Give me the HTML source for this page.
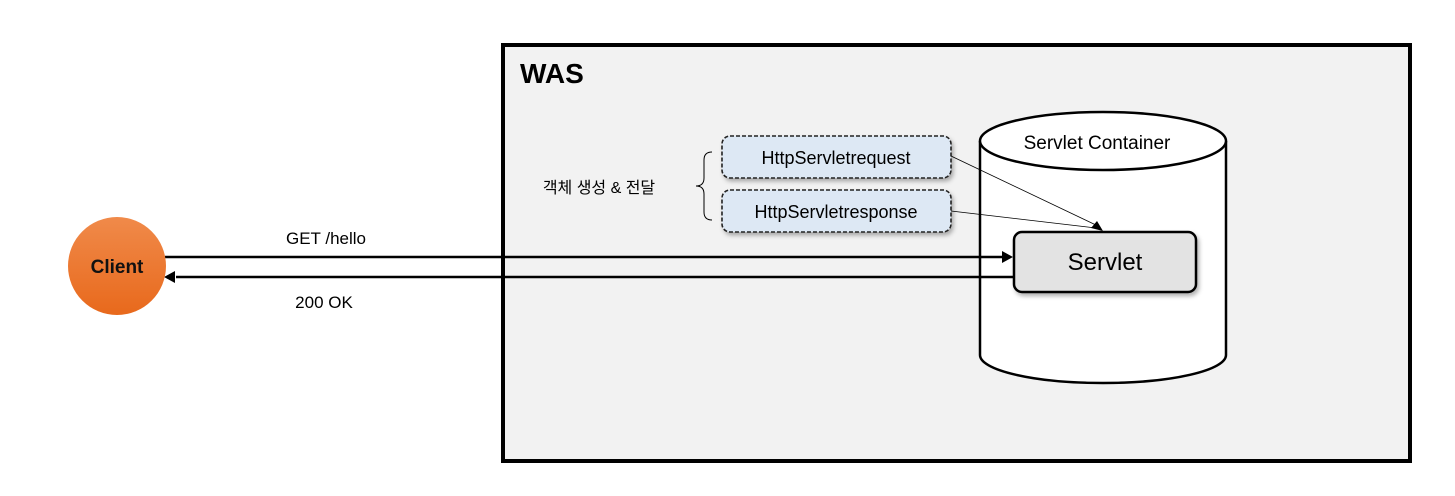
<!DOCTYPE html>
<html><head><meta charset="utf-8"><style>
html,body{margin:0;padding:0;background:#fff;}
svg{display:block;}
text{font-family:"Liberation Sans","Noto Sans CJK KR",sans-serif;}
</style></head><body>
<svg width="1455" height="496" viewBox="0 0 1455 496" xmlns="http://www.w3.org/2000/svg">
<defs>
<linearGradient id="og" x1="0" y1="0" x2="0" y2="1"><stop offset="0" stop-color="#f08a4a"/><stop offset="1" stop-color="#e8691c"/></linearGradient>
<filter id="sh" x="-10%" y="-10%" width="130%" height="140%"><feDropShadow dx="2" dy="3" stdDeviation="2" flood-color="#000" flood-opacity="0.3"/></filter>
</defs>
<rect x="503" y="45" width="907" height="416" fill="#f2f2f2" stroke="#000" stroke-width="4"/>
<text x="520" y="83" font-size="28" font-weight="bold" fill="#000">WAS</text>
<!-- cylinder -->
<path d="M980,141 L980,355 A123,28 0 0 0 1226,355 L1226,141" fill="#fff" stroke="#000" stroke-width="2.5"/>
<ellipse cx="1103" cy="141" rx="123" ry="29" fill="#fff" stroke="#000" stroke-width="2.5"/>
<text x="1097" y="149" font-size="19" text-anchor="middle" fill="#000">Servlet Container</text>
<!-- request/response -->
<rect x="722" y="136" width="229" height="42" rx="8" fill="#dde8f4" stroke="#222" stroke-width="1.6" stroke-dasharray="4,2" filter="url(#sh)"/>
<text x="836" y="164" font-size="18" text-anchor="middle" fill="#000">HttpServletrequest</text>
<rect x="722" y="190" width="229" height="42" rx="8" fill="#dde8f4" stroke="#222" stroke-width="1.6" stroke-dasharray="4,2" filter="url(#sh)"/>
<text x="836" y="218" font-size="18" text-anchor="middle" fill="#000">HttpServletresponse</text>
<path d="M712,152 Q704,152 704,160 L704,178 Q704,186 696,186 Q704,186 704,194 L704,212 Q704,220 712,220" fill="none" stroke="#000" stroke-width="1"/>
<text x="599" y="193" font-size="16" text-anchor="middle" fill="#000">객체 생성 &amp; 전달</text>
<!-- thin arrows -->
<line x1="951" y1="156" x2="1098" y2="226" stroke="#000" stroke-width="0.8"/>
<line x1="951" y1="211" x2="1096" y2="228" stroke="#000" stroke-width="0.8"/>
<polygon points="1103,231 1091,228 1097,221" fill="#000"/>
<!-- servlet -->
<rect x="1014" y="232" width="182" height="60" rx="8" fill="#e3e3e3" stroke="#000" stroke-width="2.5" filter="url(#sh)"/>
<text x="1105" y="270" font-size="24" text-anchor="middle" fill="#000">Servlet</text>
<!-- main arrows -->
<line x1="165" y1="257" x2="1004" y2="257" stroke="#000" stroke-width="2.5"/>
<polygon points="1013,257 1002,251 1002,263" fill="#000"/>
<line x1="176" y1="277" x2="1014" y2="277" stroke="#000" stroke-width="2.5"/>
<polygon points="164,277 175,271 175,283" fill="#000"/>
<text x="326" y="244" font-size="17" text-anchor="middle" fill="#000">GET /hello</text>
<text x="324" y="308" font-size="17" text-anchor="middle" fill="#000">200 OK</text>
<!-- client -->
<circle cx="117" cy="266" r="49" fill="url(#og)"/>
<text x="117" y="273" font-size="19" font-weight="bold" text-anchor="middle" fill="#111">Client</text>
</svg>
</body></html>
